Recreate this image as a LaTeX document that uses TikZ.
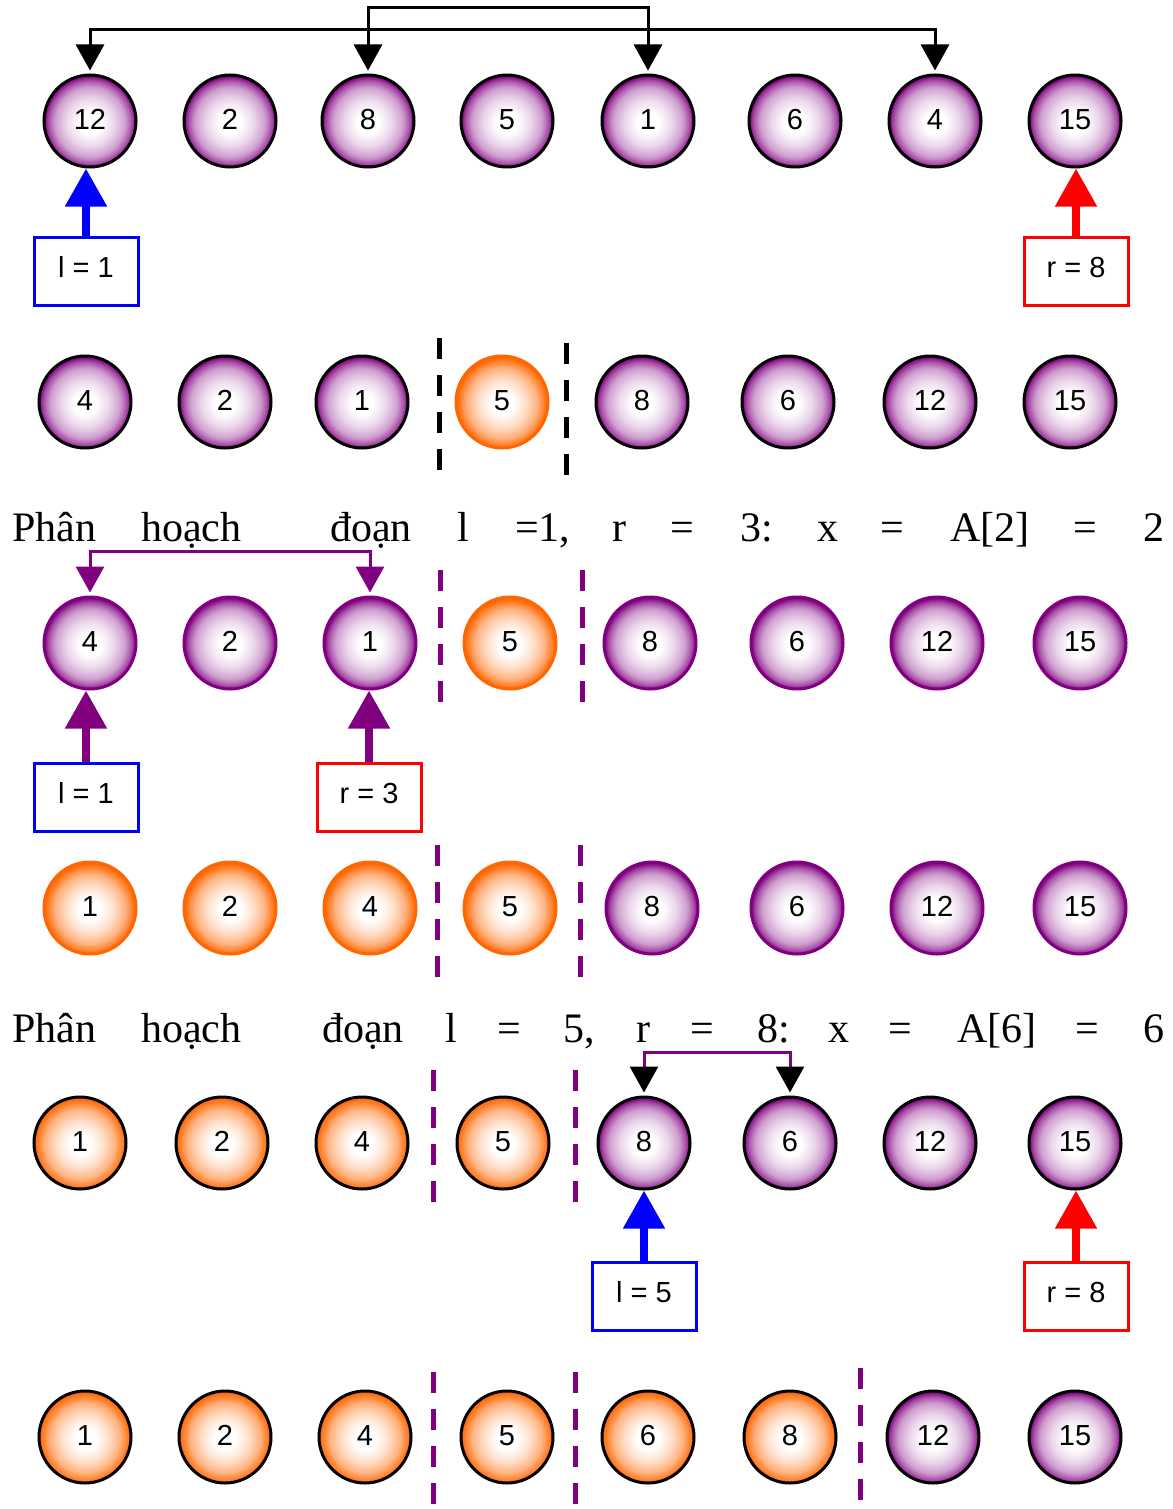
\documentclass[tikz,border=0pt]{standalone}
\usepackage{fontspec}
\setmainfont{Liberation Serif}
\newfontfamily\ballfont{Liberation Sans}
\usetikzlibrary{arrows.meta}
\definecolor{bpurple}{RGB}{128,0,128}
\definecolor{borange}{RGB}{255,102,0}
\definecolor{bblue}{RGB}{0,0,255}
\definecolor{bred}{RGB}{255,0,0}
\pgfdeclareradialshading{pballshade}{\pgfpoint{0bp}{-1bp}}{color(0bp)=(white); color(6bp)=(white); color(13bp)=(bpurple!16!white); color(19bp)=(bpurple!38!white); color(22.5bp)=(bpurple!68!white); color(25bp)=(bpurple); color(50bp)=(bpurple)}
\pgfdeclareradialshading{oballshade}{\pgfpoint{0bp}{-1bp}}{color(0bp)=(white); color(6bp)=(white); color(13bp)=(borange!22!white); color(19bp)=(borange!50!white); color(22.5bp)=(borange!80!white); color(25bp)=(borange); color(50bp)=(borange)}
\begin{document}
\begin{tikzpicture}[x=1pt,y=-1pt,
 ball/.style={circle, minimum size=92pt, inner sep=0pt, line width=3pt, font=\ballfont\fontsize{29}{29}\selectfont},
 pk/.style={ball, draw=black, shading=pballshade},
 pp/.style={ball, draw=bpurple, shading=pballshade},
 ok/.style={ball, draw=black, shading=oballshade},
 oo/.style={ball, draw=borange, shading=oballshade},
 lbox/.style={rectangle, draw, line width=3pt, minimum width=104pt, minimum height=68pt, inner sep=0pt, font=\ballfont\fontsize{29}{29}\selectfont},
 bigarrow/.style={line width=8pt, -{Triangle[width=40pt,length=38pt]}},
 conn/.style={line width=3pt, shorten <=3pt, shorten >=3pt, {Triangle[width=28pt,length=26pt]}-{Triangle[width=28pt,length=26pt]}},
 sep/.style={line width=5pt, dash pattern=on 21pt off 16pt},
 word/.style={anchor=base west, inner sep=0pt, font=\fontsize{42}{48}\selectfont}
]
\useasboundingbox (0,0) rectangle (1172,1509);
\fill[white] (0,0) rectangle (1172,1509);

% ---------- Row 1 ----------
\foreach \x/\v/\s [count=\i] in {90/12/pk,230/2/pk,368/8/pk,507/5/pk,648/1/pk,795/6/pk,935/4/pk,1075/15/pk}
  \node[\s] (a\i) at (\x,121) {\raisebox{3pt}{\v}};
\draw[conn] (a1.north) -- ++(0,-44) -| (a7.north);
\draw[conn] (a3.north) -- ++(0,-66) -| (a5.north);
\node[lbox, draw=bblue] (la) at (86,271) {\raisebox{8pt}{l = 1}};
\node[lbox, draw=bred] (ra) at (1076,271) {\raisebox{8pt}{r = 8}};
\draw[bigarrow, bblue] (la.north) -- (la.north |- a1.south);
\draw[bigarrow, bred] (ra.north) -- (ra.north |- a8.south);

% ---------- Row 2 ----------
\foreach \x/\v/\s [count=\i] in {85/4/pk,225/2/pk,362/1/pk,502/5/oo,642/8/pk,788/6/pk,930/12/pk,1070/15/pk}
  \node[\s] (b\i) at (\x,402) {\raisebox{3pt}{\v}};
\draw[sep, black] (439,338) -- (439,478);
\draw[sep, black] (566,343) -- (566,479);

% ---------- Text 1 ----------
\foreach \x/\w [count=\i] in {12/Phân,141/hoạch,330/đoạn,457/l,515/{=1,},612/r,670/=,740/3:,817/x,880/=,950/A[2],1073/=,1143/2}
  \node[word] (t\i) at (\x,541) {\w};

% ---------- Row 3 ----------
\foreach \x/\v/\s [count=\i] in {90/4/pp,230/2/pp,370/1/pp,510/5/oo,650/8/pp,797/6/pp,937/12/pp,1080/15/pp}
  \node[\s] (c\i) at (\x,643) {\raisebox{3pt}{\v}};
\draw[conn, bpurple] (c1.north) -- ++(0,-44) -| (c3.north);
\draw[sep, bpurple] (440,570) -- (440,705);
\draw[sep, bpurple] (582,570) -- (582,705);
\node[lbox, draw=bblue] (lc) at (86,797) {\raisebox{8pt}{l = 1}};
\node[lbox, draw=bred] (rc) at (369,797) {\raisebox{8pt}{r = 3}};
\draw[bigarrow, bpurple] (lc.north) -- (lc.north |- c1.south);
\draw[bigarrow, bpurple] (rc.north) -- (rc.north |- c3.south);

% ---------- Row 4 ----------
\foreach \x/\v/\s [count=\i] in {90/1/oo,230/2/oo,370/4/oo,510/5/oo,652/8/pp,797/6/pp,937/12/pp,1080/15/pp}
  \node[\s] (d\i) at (\x,908) {\raisebox{3pt}{\v}};
\draw[sep, bpurple] (437,845) -- (437,980);
\draw[sep, bpurple] (580,845) -- (580,980);

% ---------- Text 2 ----------
\foreach \x/\w [count=\i] in {12/Phân,141/hoạch,322/đoạn,445/l,497/=,563/{5,},636/r,690/=,757/8:,828/x,888/=,957/A[6],1075/=,1143/6}
  \node[word] (u\i) at (\x,1042) {\w};

% ---------- Row 5 ----------
\foreach \x/\v/\s [count=\i] in {80/1/ok,222/2/ok,362/4/ok,503/5/ok,644/8/pk,790/6/pk,930/12/pk,1075/15/pk}
  \node[\s] (e\i) at (\x,1143) {\raisebox{3pt}{\v}};
\draw[conn, bpurple, {Triangle[width=28pt,length=26pt,color=black]}-{Triangle[width=28pt,length=26pt,color=black]}] (e5.north) -- ++(0,-43) -| (e6.north);
\draw[sep, bpurple] (433,1070) -- (433,1205);
\draw[sep, bpurple] (575,1070) -- (575,1205);
\node[lbox, draw=bblue] (le) at (644,1296) {\raisebox{8pt}{l = 5}};
\node[lbox, draw=bred] (re) at (1076,1296) {\raisebox{8pt}{r = 8}};
\draw[bigarrow, bblue] (le.north) -- (le.north |- e5.south);
\draw[bigarrow, bred] (re.north) -- (re.north |- e8.south);

% ---------- Row 6 ----------
\foreach \x/\v/\s [count=\i] in {85/1/ok,225/2/ok,365/4/ok,507/5/ok,648/6/ok,790/8/ok,933/12/pk,1075/15/pk}
  \node[\s] (f\i) at (\x,1437) {\raisebox{3pt}{\v}};
\draw[sep, bpurple] (433,1372) -- (433,1509);
\draw[sep, bpurple] (575,1372) -- (575,1509);
\draw[sep, bpurple] (860,1368) -- (860,1509);
\end{tikzpicture}
\end{document}
